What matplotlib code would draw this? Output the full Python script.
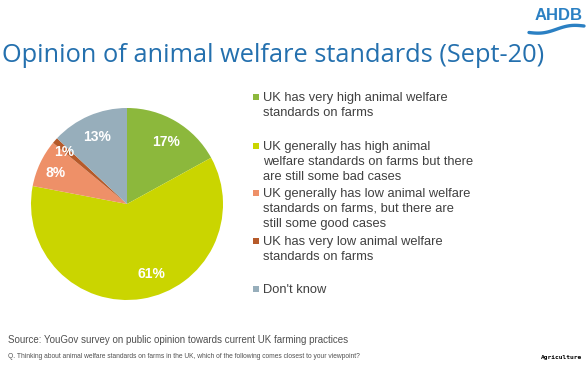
import numpy as np
import matplotlib
matplotlib.use("Agg")
import matplotlib.pyplot as plt
from matplotlib.patches import Rectangle

categories = [
    "UK has very high animal welfare\nstandards on farms",
    "UK generally has high animal\nwelfare standards on farms but there\nare still some bad cases",
    "UK generally has low animal welfare\nstandards on farms, but there are\nstill some good cases",
    "UK has very low animal welfare\nstandards on farms",
    "Don't know",
]
values = [17, 61, 8, 1, 13]
colors = ["#8CB83C", "#CAD500", "#EE9068", "#B65A2A", "#97AEBB"]

W, H = 588, 370
fig = plt.figure(figsize=(W / 100, H / 100), dpi=100)
fig.patch.set_facecolor("white")

# Pie
cx, cy, r = 127, 204, 96
ax = fig.add_axes([(cx - r) / W, (H - cy - r) / H, 2 * r / W, 2 * r / H])
wedges, texts, autotexts = ax.pie(
    values, colors=colors, startangle=90, counterclock=False,
    autopct="%d%%", pctdistance=0.79,
    wedgeprops=dict(linewidth=0),
    textprops=dict(color="white", fontsize=10, fontweight="bold", family="Liberation Sans"),
)
# label placement tweaks (distance, angle offset in degrees)
tweaks = {1: (0.74, 11), 2: (0.82, 0), 3: (0.87, 0)}
for i, (d, da) in tweaks.items():
    w = wedges[i]
    ang = np.deg2rad((w.theta1 + w.theta2) / 2 + da)
    autotexts[i].set_position((d * np.cos(ang), d * np.sin(ang)))
for a in autotexts:
    x, y = a.get_position()
    a.set_position((x, y - 0.03))
ax.set_xlim(-1, 1)
ax.set_ylim(-1, 1)
ax.set_aspect("equal")
ax.axis("off")

# Title
fig.text(2 / W, 1 - 55 / H, "Opinion of animal welfare standards (Sept-20)",
         fontsize=18.3, color="#2470AE", family="Open Sans", va="center", ha="left")

# Logo
fig.text(583 / W, 1 - 16 / H, "AHDB", fontsize=12, color="#2B80C3", fontweight="bold",
         family="Liberation Sans", va="center", ha="right")
t = np.linspace(0, 1, 60)
xs = 529 + 55 * t
ys = 32.5 - 6.5 * t + 2.0 * np.sin(t * 2 * np.pi)
fig.add_artist(plt.Line2D(xs / W, 1 - ys / H, color="#2B80C3", lw=2.4,
                          solid_capstyle="round"))

# Legend
first_line_y = [97, 146, 193, 241, 289]
for lab, col, yy in zip(categories, colors, first_line_y):
    fig.add_artist(Rectangle((253 / W, 1 - (yy + 3) / H), 6 / W, 6 / H,
                             transform=fig.transFigure, facecolor=col, edgecolor="none"))
    fig.text(263 / W, 1 - (yy - 5) / H, lab, fontsize=9.3, color="#404040",
             family="Liberation Sans", va="top", ha="left", linespacing=1.32)

# Footer
fig.text(8 / W, 1 - 340 / H,
         "Source: YouGov survey on public opinion towards current UK farming practices",
         fontsize=7.0, color="#505050", family="Liberation Sans", va="center", ha="left")
fig.text(8 / W, 1 - 357 / H,
         "Q. Thinking about animal welfare standards on farms in the UK, which of the following comes closest to your viewpoint?",
         fontsize=4.75, color="#505050", family="Liberation Sans", va="center", ha="left")
fig.text(582 / W, 1 - 357 / H, "Agriculture", fontsize=4.5, color="black",
         family="DejaVu Sans Mono", fontweight="bold", va="center", ha="right")

fig.savefig("out.png", dpi=100, facecolor="white")
